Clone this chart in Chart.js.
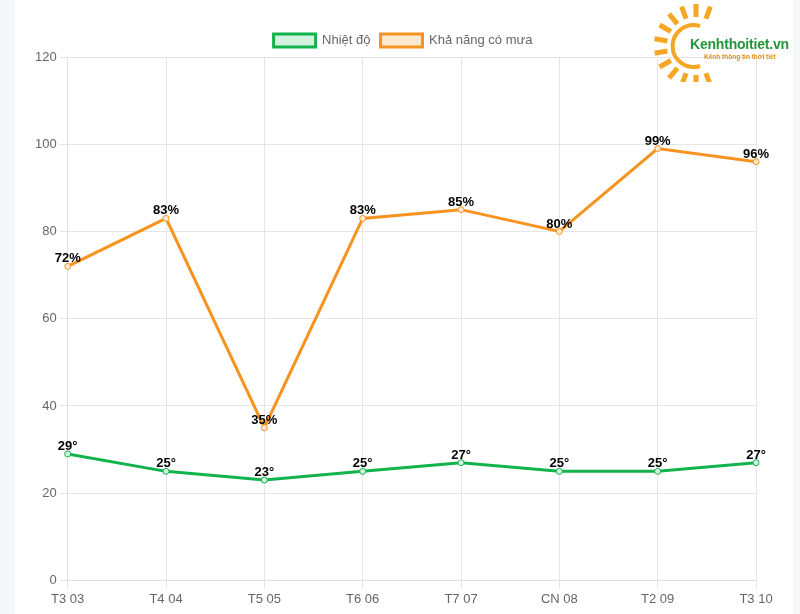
<!DOCTYPE html>
<html>
<head>
<meta charset="utf-8">
<script src="https://cdn.jsdelivr.net/npm/chart.js@4"></script>
<style>
  html, body { margin: 0; padding: 0; }
  body { width: 800px; height: 614px; background: #f3f7f8; position: relative; overflow: hidden; font-family: "Liberation Sans", Arial, sans-serif; }
  #wrap { position: absolute; left: 15px; top: 0; width: 778px; height: 614px; background: #fff; }
  #logo { position: absolute; left: 648px; top: 0; width: 152px; height: 82px; }
  #logo .name { position: absolute; left: 42px; top: 36px; font: bold 14px "Liberation Sans", Arial, sans-serif; color: #23963a; letter-spacing: -0.2px; }
  #logo .sub { position: absolute; left: 56px; top: 53px; font: bold 6.5px "Liberation Sans", Arial, sans-serif; color: #e0901a; white-space: nowrap; }
</style>
</head>
<body>
<div id="wrap"><canvas id="line" width="778" height="614"></canvas></div>
<div id="logo">
  <svg width="152" height="82" viewBox="0 0 152 82">
    <g id="rays" stroke="#f5a623" stroke-width="5" stroke-linecap="butt"></g>
    <path d="M 52 26 A 21 21 0 1 0 52 66" fill="none" stroke="#f5a623" stroke-width="4"/>
  </svg>
  <div class="name">Kenhthoitiet.vn</div>
  <div class="sub">Kênh thông tin thời tiết</div>
</div>
<script>
// labels along the x-axis
var days = ["T3 03", "T4 04", "T5 05", "T6 06", "T7 07", "CN 08", "T2 09", "T3 10"];
// temperature (°C)
var temperature = [29, 25, 23, 25, 27, 25, 25, 27];
// chance of rain (%)
var rainChance = [72, 83, 35, 83, 85, 80, 99, 96];
var units = ["°", "%"];

// sun rays for the logo
var rays = document.getElementById("rays");
var cx = 48, cy = 46;
for (var a = 70; a <= 290; a += 20) {
  var r = a * Math.PI / 180;
  var x1 = cx + Math.cos(r) * 29, y1 = cy - Math.sin(r) * 29;
  var x2 = cx + Math.cos(r) * 42, y2 = cy - Math.sin(r) * 42;
  var l = document.createElementNS("http://www.w3.org/2000/svg", "line");
  l.setAttribute("x1", x1); l.setAttribute("y1", y1);
  l.setAttribute("x2", x2); l.setAttribute("y2", y2);
  rays.appendChild(l);
}

// draws the value above each point
var pointLabels = {
  id: "pointLabels",
  afterDatasetsDraw: function(chart) {
    var ctx = chart.ctx;
    ctx.save();
    ctx.font = "bold 13px 'Liberation Sans', Arial, sans-serif";
    ctx.fillStyle = "#000";
    ctx.textAlign = "center";
    ctx.textBaseline = "bottom";
    chart.data.datasets.forEach(function(ds, i) {
      chart.getDatasetMeta(i).data.forEach(function(pt, j) {
        ctx.fillText(ds.data[j] + units[i], pt.x, pt.y - 1);
      });
    });
    ctx.restore();
  }
};

// centre the legend on the whole canvas, not the padded box
var legendShift = {
  id: "legendShift",
  afterLayout: function(chart) {
    chart.legend.left += 9;
    chart.legend.right += 9;
  }
};

Chart.defaults.font.family = "'Liberation Sans', Arial, sans-serif";
Chart.defaults.font.size = 13;
Chart.defaults.color = "#666";

var chart = new Chart(document.getElementById("line"), {
  type: "line",
  data: {
    labels: days,
    datasets: [
      {
        label: "Nhiệt độ",
        data: temperature,
        borderColor: "#12b24c",
        backgroundColor: "#d3f3e0",
        pointBackgroundColor: "#d3f3e0",
        borderWidth: 3,
        pointRadius: 3,
        pointBorderWidth: 1,
        tension: 0
      },
      {
        label: "Khả năng có mưa",
        data: rainChance,
        borderColor: "#f7931e",
        backgroundColor: "#fde9d0",
        pointBackgroundColor: "#fde9d0",
        borderWidth: 3,
        pointRadius: 3,
        pointBorderWidth: 1,
        tension: 0
      }
    ]
  },
  options: {
    responsive: false,
    animation: false,
    layout: { padding: { left: 17, right: 37, top: 24, bottom: 4 } },
    plugins: {
      legend: { labels: { boxWidth: 42, boxHeight: 13, padding: 10 } },
      tooltip: { enabled: false }
    },
    scales: {
      x: {
        grid: { color: "#e6e6e6" },
        border: { color: "#e0e0e0" }
      },
      y: {
        min: 0,
        max: 120,
        ticks: { stepSize: 20 },
        grid: { color: "#e6e6e6" },
        border: { color: "#e0e0e0" }
      }
    }
  },
  plugins: [pointLabels, legendShift]
});
</script>
</body>
</html>
